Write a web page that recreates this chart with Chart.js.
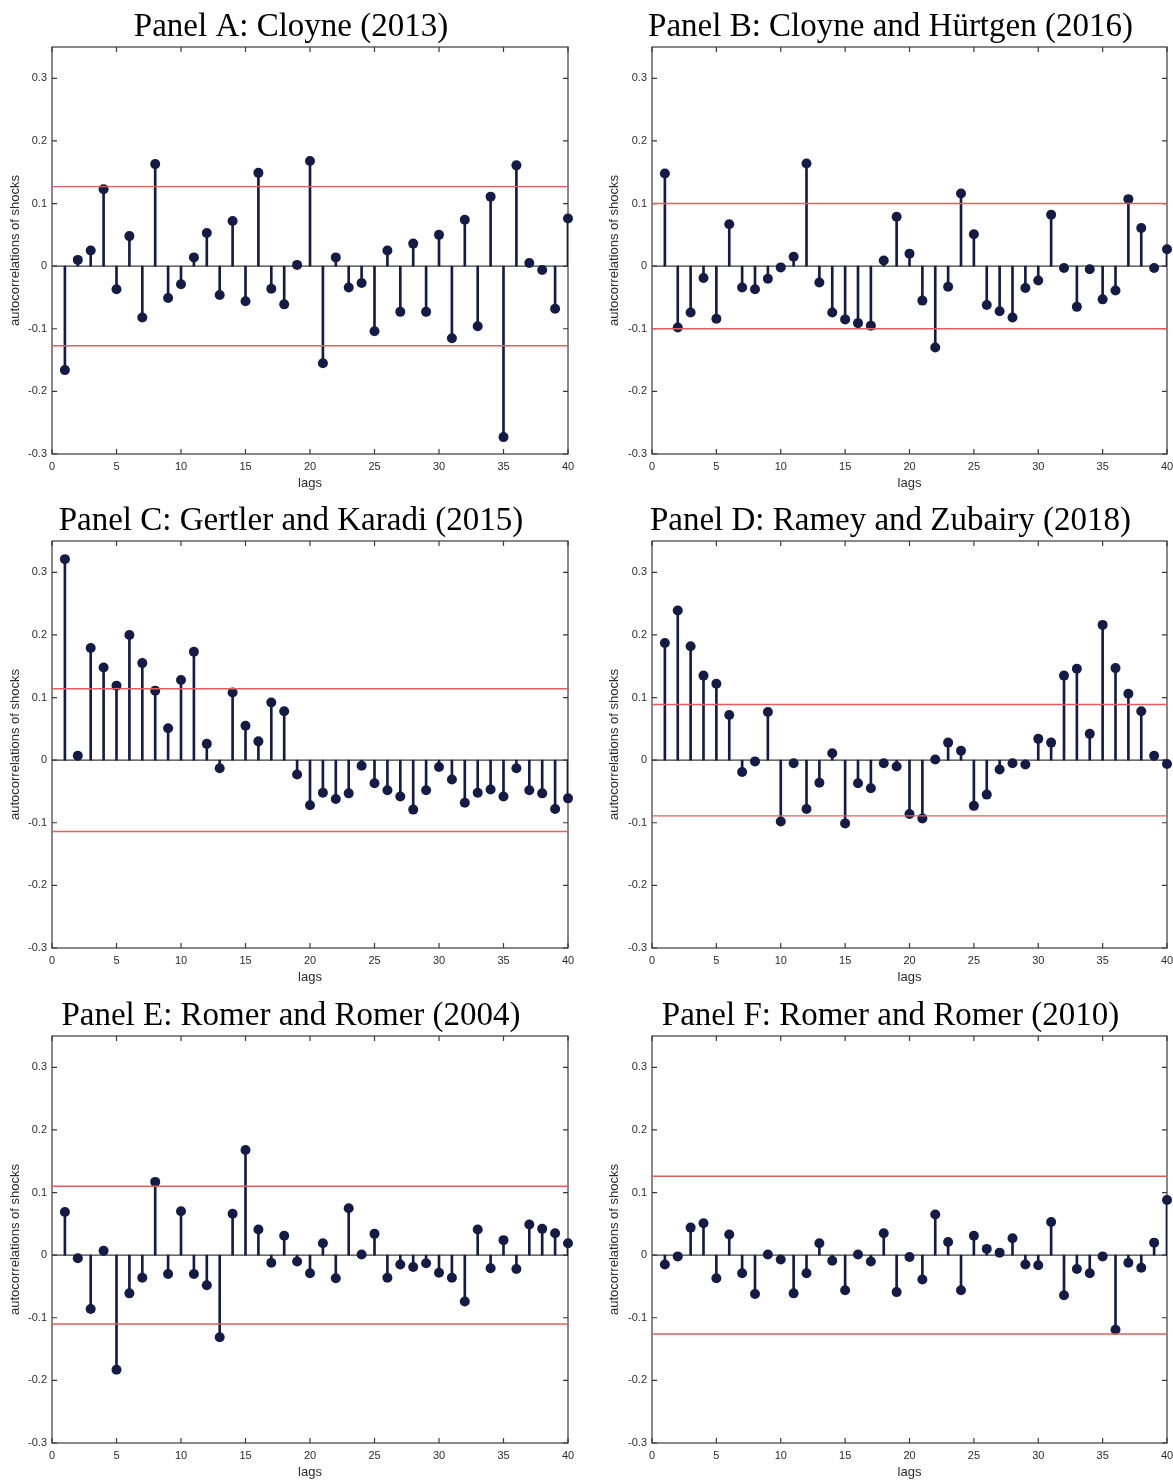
<!DOCTYPE html>
<html>
<head>
<meta charset="utf-8">
<title>Autocorrelations of shocks</title>
<script src="https://cdn.jsdelivr.net/npm/chart.js@4.4.1/dist/chart.umd.min.js"></script>
<style>
  html, body { margin: 0; padding: 0; background: #fff; overflow: hidden; }
  #page { position: relative; width: 1173px; height: 1481px; overflow: hidden; }
  #page canvas { position: absolute; }
</style>
</head>
<body>
<div id="page"></div>
<script>
// Lags on the horizontal axis
const lags = [1, 2, 3, 4, 5, 6, 7, 8, 9, 10, 11, 12, 13, 14, 15, 16, 17, 18, 19, 20,
              21, 22, 23, 24, 25, 26, 27, 28, 29, 30, 31, 32, 33, 34, 35, 36, 37, 38, 39, 40];

// Autocorrelations of each shock series, lags 1..40
const acfCloyne2013 = [-0.166, 0.010, 0.025, 0.123, -0.037, 0.048, -0.082, 0.163, -0.051, -0.029,
  0.014, 0.053, -0.046, 0.072, -0.056, 0.149, -0.036, -0.061, 0.002, 0.168,
  -0.155, 0.014, -0.034, -0.027, -0.104, 0.025, -0.073, 0.036, -0.073, 0.050,
  -0.115, 0.074, -0.096, 0.111, -0.273, 0.161, 0.005, -0.006, -0.068, 0.076];
const acfCloyneHurtgen2016 = [0.148, -0.098, -0.074, -0.019, -0.084, 0.067, -0.034, -0.037, -0.020, -0.002,
  0.015, 0.164, -0.026, -0.074, -0.085, -0.091, -0.095, 0.009, 0.079, 0.020,
  -0.055, -0.130, -0.033, 0.116, 0.051, -0.062, -0.072, -0.082, -0.035, -0.023,
  0.082, -0.003, -0.065, -0.005, -0.053, -0.039, 0.107, 0.061, -0.003, 0.027];
const acfGertlerKaradi2015 = [0.321, 0.007, 0.179, 0.148, 0.119, 0.200, 0.155, 0.111, 0.051, 0.128,
  0.173, 0.026, -0.013, 0.108, 0.055, 0.030, 0.092, 0.078, -0.023, -0.072,
  -0.052, -0.062, -0.053, -0.009, -0.037, -0.048, -0.058, -0.079, -0.048, -0.011,
  -0.031, -0.068, -0.052, -0.047, -0.058, -0.013, -0.048, -0.053, -0.078, -0.061];
const acfRameyZubairy2018 = [0.187, 0.239, 0.182, 0.135, 0.122, 0.072, -0.019, -0.002, 0.077, -0.098,
  -0.005, -0.078, -0.036, 0.011, -0.101, -0.037, -0.045, -0.005, -0.010, -0.086,
  -0.093, 0.001, 0.028, 0.015, -0.073, -0.055, -0.015, -0.005, -0.007, 0.034,
  0.028, 0.135, 0.146, 0.042, 0.216, 0.147, 0.106, 0.078, 0.007, -0.006];
const acfRomerRomer2004 = [0.069, -0.005, -0.086, 0.007, -0.183, -0.061, -0.036, 0.117, -0.030, 0.070,
  -0.030, -0.048, -0.131, 0.066, 0.168, 0.041, -0.012, 0.031, -0.010, -0.029,
  0.019, -0.037, 0.075, 0.001, 0.034, -0.036, -0.015, -0.019, -0.013, -0.028,
  -0.036, -0.074, 0.041, -0.021, 0.024, -0.022, 0.049, 0.042, 0.035, 0.019];
const acfRomerRomer2010 = [-0.015, -0.002, 0.044, 0.051, -0.037, 0.033, -0.029, -0.062, 0.001, -0.007,
  -0.061, -0.029, 0.019, -0.009, -0.056, 0.001, -0.010, 0.035, -0.059, -0.003,
  -0.039, 0.065, 0.021, -0.056, 0.031, 0.010, 0.004, 0.027, -0.015, -0.016,
  0.053, -0.064, -0.022, -0.029, -0.002, -0.119, -0.012, -0.020, 0.020, 0.088];

// Half-widths of the significance bands (drawn at +/- value)
const bands = [0.127, 0.100, 0.114, 0.089, 0.110, 0.126];

const panelTitles = [
  'Panel A: Cloyne (2013)',
  'Panel B: Cloyne and Hürtgen (2016)',
  'Panel C: Gertler and Karadi (2015)',
  'Panel D: Ramey and Zubairy (2018)',
  'Panel E: Romer and Romer (2004)',
  'Panel F: Romer and Romer (2010)'
];
const panelSeries = [acfCloyne2013, acfCloyneHurtgen2016, acfGertlerKaradi2015,
                     acfRameyZubairy2018, acfRomerRomer2004, acfRomerRomer2010];

// Axis ticks
const xTicks = [0, 5, 10, 15, 20, 25, 30, 35, 40];
const xTickLabels = ['0', '5', '10', '15', '20', '25', '30', '35', '40'];
const yTicks = [-0.3, -0.2, -0.1, 0, 0.1, 0.2, 0.3];
const yTickLabels = ['-0.3', '-0.2', '-0.1', '0', '0.1', '0.2', '0.3'];
const yLabel = 'autocorrelations of shocks';
const xLabel = 'lags';

const STEM = '#141c46';
const BAND = '#e25e5e';
const INK = '#2b2b2b';

Chart.defaults.font.family = "'Liberation Sans', Arial, Helvetica, sans-serif";
Chart.defaults.color = INK;

// Box around the plot area with inward tick marks on all four sides
const boxedAxes = {
  id: 'boxedAxes',
  beforeDatasetsDraw(chart) {
    const { ctx, chartArea: a, scales: { x, y } } = chart;
    const len = 5;
    ctx.save();
    ctx.strokeStyle = '#3a3a3a';
    ctx.lineWidth = 1.2;
    ctx.strokeRect(a.left, a.top, a.right - a.left, a.bottom - a.top);
    ctx.beginPath();
    x.ticks.forEach(t => {
      const px = x.getPixelForValue(t.value);
      ctx.moveTo(px, a.bottom); ctx.lineTo(px, a.bottom - len);
      ctx.moveTo(px, a.top); ctx.lineTo(px, a.top + len);
    });
    y.ticks.forEach(t => {
      const py = y.getPixelForValue(t.value);
      ctx.moveTo(a.left, py); ctx.lineTo(a.left + len, py);
      ctx.moveTo(a.right, py); ctx.lineTo(a.right - len, py);
    });
    ctx.stroke();
    ctx.restore();
  }
};

// Canvas frames per column; the right-hand padding leaves room for the last x label
const colLeft = { left: 0, width: 586, padL: 14, padR: 18, yTitlePad: -6.8 };
const colRight = { left: 586, width: 600, padL: 28, padR: 19, yTitlePad: -7.1 };
const rowTops = [0, 494, 989];
const CANVAS_H = 494;
const Y_AXIS_W = 38;
const X_AXIS_H = 40;

const page = document.getElementById('page');

panelSeries.forEach((series, i) => {
  const col = i % 2 === 0 ? colLeft : colRight;
  const top = rowTops[Math.floor(i / 2)];
  const canvas = document.createElement('canvas');
  canvas.width = col.width;
  canvas.height = CANVAS_H;
  canvas.style.left = col.left + 'px';
  canvas.style.top = top + 'px';
  canvas.style.width = col.width + 'px';
  canvas.style.height = CANVAS_H + 'px';
  page.appendChild(canvas);

  const points = lags.map((lag, k) => ({ x: lag, y: series[k] }));
  const band = bands[i];

  new Chart(canvas, {
    type: 'bar',
    data: {
      datasets: [
        {
          type: 'line',
          label: 'upper band',
          data: [{ x: 0, y: band }, { x: 40, y: band }],
          borderColor: BAND,
          borderWidth: 1.4,
          pointRadius: 0,
          order: 1
        },
        {
          type: 'line',
          label: 'lower band',
          data: [{ x: 0, y: -band }, { x: 40, y: -band }],
          borderColor: BAND,
          borderWidth: 1.4,
          pointRadius: 0,
          order: 1
        },
        {
          type: 'scatter',
          label: 'markers',
          data: points,
          pointRadius: 5,
          pointBackgroundColor: STEM,
          pointBorderColor: STEM,
          pointBorderWidth: 0,
          clip: false,
          order: 2
        },
        {
          type: 'bar',
          label: 'stems',
          data: points,
          backgroundColor: STEM,
          borderWidth: 0,
          barThickness: 2,
          order: 3
        },
        {
          type: 'line',
          label: 'baseline',
          data: [{ x: 0, y: 0 }, { x: 40, y: 0 }],
          borderColor: '#3c3c3c',
          borderWidth: 1.4,
          pointRadius: 0,
          order: 4
        }
      ]
    },
    options: {
      responsive: false,
      maintainAspectRatio: false,
      devicePixelRatio: 1,
      animation: false,
      events: [],
      layout: { padding: { left: col.padL, right: col.padR, top: 0, bottom: 0 } },
      plugins: {
        legend: { display: false },
        tooltip: { enabled: false },
        title: {
          display: true,
          text: panelTitles[i],
          color: '#000',
          font: { family: "'Liberation Serif', 'Times New Roman', serif", size: 33, weight: 'normal', lineHeight: 1.2 },
          padding: { top: 7.4, bottom: 0 }
        }
      },
      scales: {
        x: {
          type: 'linear',
          min: 0,
          max: 40,
          offset: false,
          grid: { display: false, drawTicks: false },
          border: { display: false },
          afterBuildTicks: s => { s.ticks = xTicks.map(v => ({ value: v })); },
          afterFit: s => { s.height = X_AXIS_H; },
          ticks: {
            padding: 6,
            maxRotation: 0,
            autoSkip: false,
            font: { size: 11 },
            color: INK,
            callback: (v, idx) => xTickLabels[idx]
          },
          title: {
            display: true,
            text: xLabel,
            color: INK,
            font: { size: 13 },
            padding: { top: 0, bottom: 2.7 }
          }
        },
        y: {
          type: 'linear',
          min: -0.3,
          max: 0.35,
          grid: { display: false, drawTicks: false },
          border: { display: false },
          afterBuildTicks: s => { s.ticks = yTicks.map(v => ({ value: v })); },
          afterFit: s => { s.width = Y_AXIS_W; },
          ticks: {
            padding: 5,
            autoSkip: false,
            font: { size: 11 },
            color: INK,
            callback: (v, idx) => yTickLabels[idx]
          },
          title: {
            display: true,
            text: yLabel,
            color: INK,
            font: { size: 13 },
            padding: { top: col.yTitlePad, bottom: 0 }
          }
        }
      }
    },
    plugins: [boxedAxes]
  });
});
</script>
</body>
</html>
